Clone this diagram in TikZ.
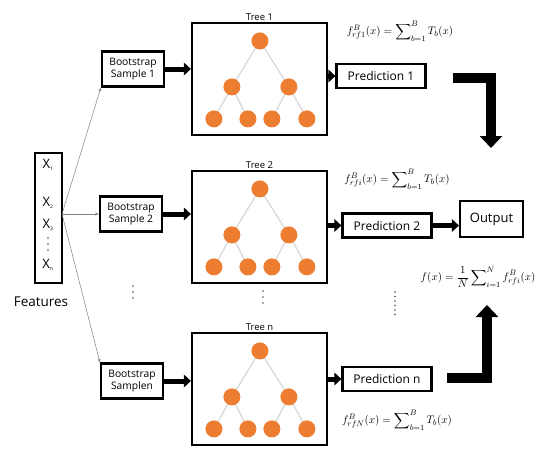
\documentclass[tikz,border=0pt]{standalone}
\usepackage{amsmath}
\usepackage{fontspec}
\setmainfont{Open Sans}
\usetikzlibrary{arrows.meta}
\definecolor{leafc}{HTML}{ED7D31}
\tikzset{
  box/.style={draw, line width=2.2pt, inner sep=0pt, align=center},
  bsbox/.style={box, minimum width=62pt, minimum height=35pt, font=\fontsize{10.3}{12.5}\selectfont},
  treebox/.style={draw, line width=2.2pt, minimum width=135pt, minimum height=112pt, inner sep=0pt},
  predbox/.style={box, minimum width=89pt, minimum height=24pt, font=\fontsize{12}{14}\selectfont},
  leaf/.style={circle, fill=leafc, minimum size=17pt, inner sep=0pt},
  treeedge/.style={draw=gray!30, line width=1.3pt},
  fatarrow/.style={line width=5pt, -{Triangle[length=7pt,width=12.5pt]}},
  bigarrow/.style={line width=10pt, line join=miter, -{Triangle[length=12pt,width=22pt]}},
  fan/.style={draw=gray, line width=0.5pt, -{Stealth[length=4pt,width=3pt]}},
  lbl/.style={font=\fontsize{9.5}{11}\selectfont},
  formula/.style={font=\fontsize{11}{12}\selectfont, inner sep=0pt},
  xlab/.style={font=\fontsize{13}{14}\selectfont, inner sep=0pt},
  dot/.style={circle, fill=black!70, minimum size=1.8pt, inner sep=0pt},
  rftree/.pic={
    \coordinate (-r) at (69,19);
    \coordinate (-a) at (41,65);
    \coordinate (-b) at (98,65);
    \coordinate (-a1) at (23,97);
    \coordinate (-a2) at (57,97);
    \coordinate (-b1) at (81,97);
    \coordinate (-b2) at (116,97);
    \draw[treeedge] (-r) -- (-a);
    \draw[treeedge] (-r) -- (-b);
    \draw[treeedge] (-a) -- (-a1);
    \draw[treeedge] (-a) -- (-a2);
    \draw[treeedge] (-b) -- (-b1);
    \draw[treeedge] (-b) -- (-b2);
    \node[leaf] (-nr) at (-r) {};
    \node[leaf] (-na) at (-a) {};
    \node[leaf] (-nb) at (-b) {};
    \node[leaf] (-na1) at (-a1) {};
    \node[leaf] (-na2) at (-a2) {};
    \node[leaf] (-nb1) at (-b1) {};
    \node[leaf] (-nb2) at (-b2) {};
  }
}
\begin{document}
\begin{tikzpicture}[x=1pt,y=-1pt]
\useasboundingbox (0,0) rectangle (550,453);

% Features
\node[draw, line width=2.2pt, minimum width=27pt, minimum height=130pt, inner sep=0pt] (feat) at (48.5,218) {};
\node[xlab] (x1) at (48,165) {X\textsubscript{\tiny 1}};
\node[xlab] (x2) at (48,203) {X\textsubscript{\tiny 2}};
\node[xlab] (x3) at (48,225) {X\textsubscript{\tiny 3}};
\foreach \yy in {238,244,250} {\node[dot] at (48,\yy) {};}
\node[xlab] (xn) at (48,265) {X\textsubscript{\tiny n}};
\node[font=\fontsize{13.5}{15}\selectfont] (flab) at (41,302) {Features};
\coordinate (fo) at (62,214);

% Bootstrap boxes
\node[bsbox] (bs1) at (133,69) {Bootstrap\\Sample 1};
\node[bsbox] (bs2) at (131,214) {Bootstrap\\Sample 2};
\node[bsbox] (bsn) at (132,381) {Bootstrap\\Sample\textrm{n}};

\draw[fan] (fo) -- (bs1.south west);
\draw[fan] (fo) -- (bs2.west);
\draw[fan] (fo) -- (bsn.north west);

% Trees
\node[treebox] (t1) at (259.5,79) {};
\node[treebox] (t2) at (259.5,227) {};
\node[treebox] (tn) at (259.5,389) {};
\pic (p1) at (t1.north west) {rftree};
\pic (p2) at (t2.north west) {rftree};
\pic (pn) at (tn.north west) {rftree};
\node[lbl, anchor=south, inner sep=1.5pt] (tl1) at (t1.north) {Tree \textrm{1}};
\node[lbl, anchor=south, inner sep=1.5pt] (tl2) at (t2.north) {Tree 2};
\node[lbl, anchor=south, inner sep=1.5pt] (tln) at (tn.north) {Tree \textrm{n}};

\draw[fatarrow] (bs1.east) -- (bs1.east -| t1.west);
\draw[fatarrow] (bs2.east) -- (bs2.east -| t2.west);
\draw[fatarrow] (bsn.east) -- (bsn.east -| tn.west);

% Predictions
\node[predbox] (pr1) at (381,76) {Prediction 1};
\node[predbox] (pr2) at (387,225.5) {Prediction 2};
\node[predbox] (prn) at (387,379) {Prediction \textrm{n}};

\draw[fatarrow] (pr1.west -| t1.east) -- (pr1.west);
\draw[fatarrow] (pr2.west -| t2.east) -- (pr2.west);
\draw[fatarrow] (prn.west -| tn.east) -- (prn.west);

% Output
\node[box, minimum width=63pt, minimum height=36pt, font=\fontsize{13}{15}\selectfont] (out) at (491.5,219) {Output};
\draw[fatarrow] (pr2.east) -- (pr2.east -| out.west);

% Big L arrows
\coordinate (l1s) at (453,78);
\coordinate (l1e) at (491,148);
\draw[bigarrow] (l1s) -| (l1e);
\coordinate (l2s) at (447,377.5);
\coordinate (l2e) at (487,305);
\draw[bigarrow] (l2s) -| (l2e);

% Formulas
\node[formula] (f1) at (400,31) {$\displaystyle f^{B}_{rf1}(x)=\sum\nolimits_{b=1}^{B}T_b(x)$};
\node[formula] (f2) at (397,179) {$\displaystyle f^{B}_{rfi}(x)=\sum\nolimits_{b=1}^{B}T_b(x)$};
\node[formula] (fn) at (397,420) {$\displaystyle f^{B}_{rfN}(x)=\sum\nolimits_{b=1}^{B}T_b(x)$};
\node[formula] (fo2) at (478,277) {$\displaystyle f(x)=\frac{1}{N}\sum\nolimits_{i=1}^{N}f^{B}_{rfi}(x)$};

% Dots
\foreach \yy in {286,292,298} {\node[dot] at (133,\yy) {};}
\foreach \yy in {291,297,303} {\node[dot] at (263,\yy) {};}
\foreach \yy in {292,296.5,301,305.5,310,314.5} {\node[dot] at (395,\yy) {};}
\end{tikzpicture}
\end{document}
